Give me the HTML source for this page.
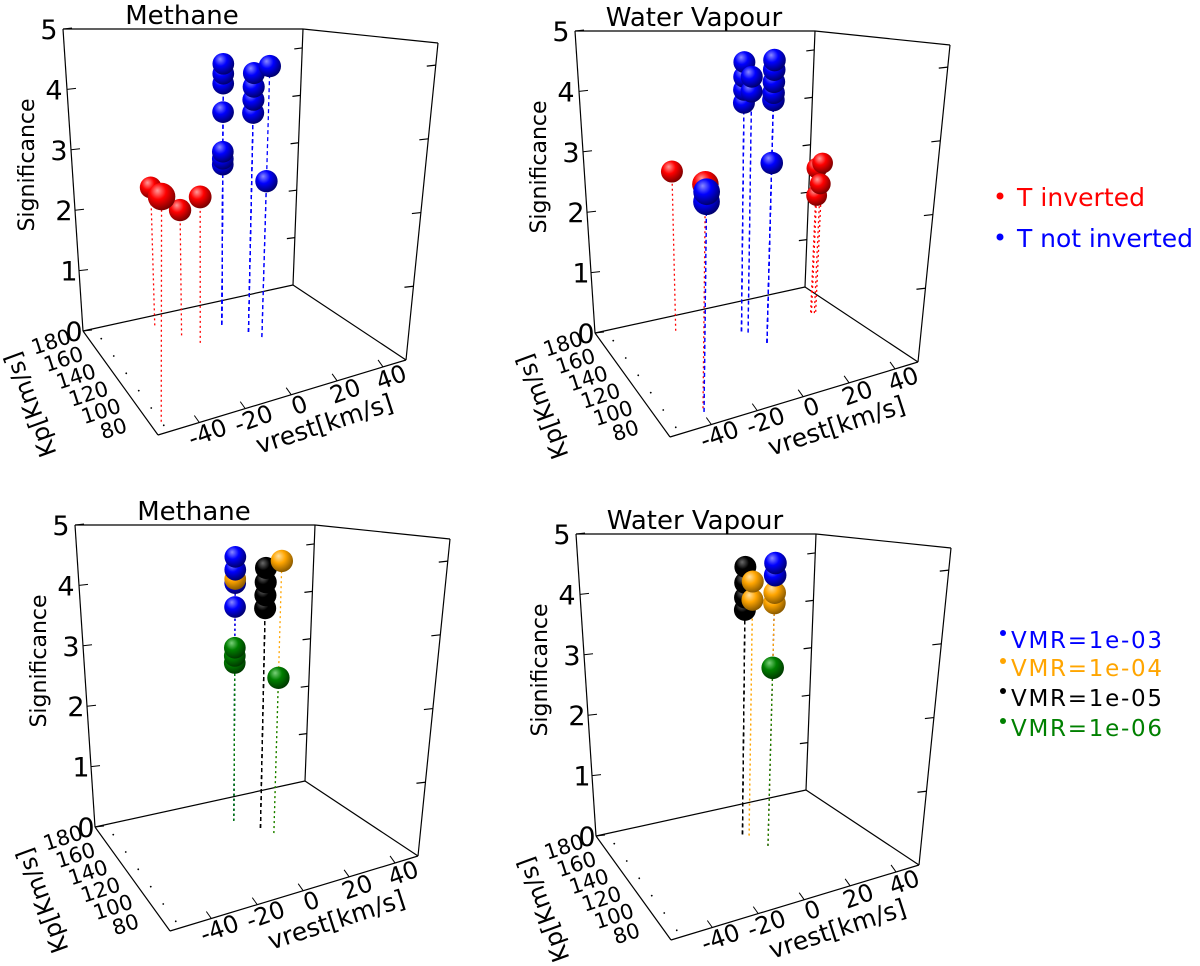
<!DOCTYPE html>
<html><head><meta charset="utf-8"><style>
html,body{margin:0;padding:0;background:#fff;}
svg{display:block;font-family:"DejaVu Sans","Liberation Sans",sans-serif;}
</style></head><body>
<svg id="fig" width="1200" height="966" viewBox="0 0 1200 966" xmlns="http://www.w3.org/2000/svg">
<defs id="defs"></defs>
<g id="panels"></g>
<g>
  <circle cx="1000" cy="196" r="3.5" fill="#ff0000"/>
  <text x="1017" y="206" font-size="25" fill="#ff0000" textLength="128">T inverted</text>
  <circle cx="1000" cy="237" r="3.5" fill="#0000ff"/>
  <text x="1017" y="247" font-size="25" fill="#0000ff" textLength="176">T not inverted</text>
</g>
<g>
  <circle cx="1003" cy="633" r="3" fill="#0000ff"/>
  <text x="1011" y="648" font-size="23" fill="#0000ff" textLength="151">VMR=1e-03</text>
  <circle cx="1003" cy="661" r="3" fill="#ffa500"/>
  <text x="1011" y="676" font-size="23" fill="#ffa500" textLength="151">VMR=1e-04</text>
  <circle cx="1003" cy="691" r="3" fill="#000000"/>
  <text x="1011" y="706" font-size="23" fill="#000000" textLength="151">VMR=1e-05</text>
  <circle cx="1003" cy="721" r="3" fill="#008000"/>
  <text x="1011" y="736" font-size="23" fill="#008000" textLength="151">VMR=1e-06</text>
</g>
</svg>
<script>
// ---- data ----
const panelTitles = ["Methane", "Water Vapour", "Methane", "Water Vapour"];
const zTicks = [0, 1, 2, 3, 4, 5];
const vrestTicks = [-40, -20, 0, 20, 40];
const kpTicks = [180, 160, 140, 120, 100, 80];

// panel 1: Methane, temperature
const p1Vrest = [-23, -58, -17, -13, 2, 2, 2, 2, 2, 2, 2, 9, 9, 9, 9, 12, 12];
const p1Kp    = [181, 78, 163, 150, 163, 163, 163, 163, 163, 163, 163, 148, 148, 148, 148, 139, 139];
const p1Sig   = [2.36, 3.05, 2.09, 2.39, 4.48, 4.31, 4.14, 3.65, 2.97, 2.85, 2.75, 4.37, 4.14, 3.92, 3.70, 4.52, 2.60];
const p1Group = ["inv","inv","inv","inv","not","not","not","not","not","not","not","not","not","not","not","not","not"];

// panel 2: Water Vapour, temperature
const p2Vrest = [-21, -41, -42, -42, 3, 3, 3, 3, 5, 5, 8, 8, 8, 8, 8, 8, 38, 36, 37, 36];
const p2Kp    = [175, 86, 82, 82, 156, 156, 156, 156, 153, 153, 137, 137, 137, 137, 137, 137, 156, 157, 155, 156];
const p2Sig   = [2.70, 3.15, 3.07, 2.93, 4.57, 4.32, 4.10, 3.88, 4.33, 4.08, 4.67, 4.51, 4.31, 4.13, 4.01, 2.97, 2.67, 2.58, 2.31, 2.10];
const p2Group = ["inv","inv","not","not","not","not","not","not","not","not","not","not","not","not","not","not","inv","inv","inv","inv"];

// panel 3: Methane, VMR
const p3Vrest = [2, 2, 2, 2, 2, 2, 2, 2, 9, 9, 9, 9, 12, 12];
const p3Kp    = [163, 163, 163, 163, 163, 163, 163, 163, 148, 148, 148, 148, 139, 139];
const p3Sig   = [4.53, 4.31, 4.15, 4.08, 3.67, 2.97, 2.83, 2.71, 4.39, 4.15, 3.93, 3.71, 4.54, 2.59];
const p3Group = ["1e-03","1e-03","1e-04","1e-03","1e-03","1e-06","1e-06","1e-06","1e-05","1e-05","1e-05","1e-05","1e-04","1e-06"];

// panel 4: Water Vapour, VMR
const p4Vrest = [3, 3, 3, 3, 5, 5, 8, 8, 8, 8, 8];
const p4Kp    = [156, 156, 156, 156, 153, 153, 137, 137, 137, 137, 137];
const p4Sig   = [4.54, 4.27, 4.02, 3.81, 4.30, 3.99, 4.67, 4.47, 4.18, 4.01, 2.94];
const p4Group = ["1e-05","1e-05","1e-05","1e-05","1e-04","1e-04","1e-03","1e-03","1e-04","1e-04","1e-06"];

// ---- layout ----
const NS = "http://www.w3.org/2000/svg";
const colors = {"inv":"#ff0000","not":"#0000ff","1e-03":"#0000ff","1e-04":"#ffa500","1e-05":"#000000","1e-06":"#008000"};
const darks  = {"inv":"#7a0000","not":"#00006e","1e-03":"#00006e","1e-04":"#8a5a00","1e-05":"#000000","1e-06":"#003a00"};
const lights = {"inv":"#ff9a9a","not":"#8a8aff","1e-03":"#8a8aff","1e-04":"#ffe0a0","1e-05":"#6a6a6a","1e-06":"#7ad07a"};
const dashes = {"inv":"2,3","not":"4,3","1e-03":"2,3","1e-04":"2,3","1e-05":"4,3","1e-06":"2,3"};
const offsets = [[0,0],[512,2],[12,496],[513,505]];
const panelData = [[p1Vrest,p1Kp,p1Sig,p1Group],[p2Vrest,p2Kp,p2Sig,p2Group],[p3Vrest,p3Kp,p3Sig,p3Group],[p4Vrest,p4Kp,p4Sig,p4Group]];

function uOf(vr){ return (vr + 58) / 108; }
function vOf(kp){ return (kp - 70) / 120; }
function proj(vr, kp, s){
  const u = uOf(vr), v = vOf(kp);
  const fx = 235 + (u - 0.5) * 229 + (v - 0.5) * (-94);
  const fy = 352.75 + (u - 0.5) * (-60.5) + (v - 0.5) * (-89.5);
  const H = 374 - 57*u - 72*v + 11*u*v;
  const S = 2 + 30*u - 22*v;
  return {x: fx + s*S/5, y: fy - s*H/5, fx: fx, fy: fy, H: H, v: v};
}
function mk(tag, attrs, parent){
  const e = document.createElementNS(NS, tag);
  for (const k in attrs) e.setAttribute(k, attrs[k]);
  if (parent) parent.appendChild(e);
  return e;
}

const defs = document.getElementById("defs");
for (const g in colors){
  const rg = mk("radialGradient", {id:"grad-"+g, cx:"0.4", cy:"0.35", r:"0.65", fx:"0.35", fy:"0.28"}, defs);
  mk("stop", {offset:"0", "stop-color":lights[g]}, rg);
  mk("stop", {offset:"0.45", "stop-color":colors[g]}, rg);
  mk("stop", {offset:"1", "stop-color":darks[g]}, rg);
}

const root = document.getElementById("panels");
const BLb=[83,331], BRb=[293,285], FRb=[406,360], FLb=[158,435];
const BLt=[63,29], BRt=[303,29], FRt=[438,43];

panelData.forEach((pd, pi) => {
  const g = mk("g", {transform:"translate("+offsets[pi][0]+","+offsets[pi][1]+")"}, root);
  
  

  const title = mk("text", {x:182, y:24, "font-size":26, "text-anchor":"middle"}, g);
  title.textContent = panelTitles[pi];
  
  

  const frame = mk("g", {stroke:"#000", "stroke-width":1.2, fill:"none"}, g);
  
  
  const segs = [[BLt,BLb],[BLb,BRb],[BRb,FRb],[FRb,FLb],[FLb,BLb],[BRb,BRt],[FRb,FRt],[BLt,BRt],[BRt,FRt]];
  segs.forEach(s => mk("line", {x1:s[0][0], y1:s[0][1], x2:s[1][0], y2:s[1][1]}, frame));
  for (let k=1;k<=5;k++){
    const t=k/5.4;
    const bx=293+10*t, by=285-256*t;
    mk("line",{x1:bx,y1:by,x2:bx-8,y2:by+1},frame);
  }
  for (let k=1;k<=4;k++){
    const t=k/4.3;
    const bx=406+32*t, by=360-317*t;
    mk("line",{x1:bx,y1:by,x2:bx-9,y2:by+1},frame);
  }

  const zg = mk("g", {}, g);
  
  
  zTicks.forEach(k => {
    const y = 331 - k*60.4, x = 83 - 4*k;
    mk("line", {x1:x, y1:y, x2:x+9, y2:y-1, stroke:"#000", "stroke-width":1}, zg);
    const t = mk("text", {x: 92 - 5*k - 18, y: y + 10, "font-size":27, "text-anchor":"middle"}, zg);
    t.textContent = String(k);
    
    
  });
  const zt = mk("text", {x:0, y:0, "font-size":22, "text-anchor":"middle", transform:"translate(34,165) rotate(-90)"}, g);
  zt.textContent = "Significance";
  
  

  const xg = mk("g", {}, g);
  
  
  vrestTicks.forEach(val => {
    const u = uOf(val);
    const x = 158 + u*248, y = 435 - u*75;
    mk("line", {x1:x, y1:y, x2:x-5, y2:y-7, stroke:"#000", "stroke-width":1}, xg);
    const t = mk("text", {x:0, y:0, "font-size":24, "text-anchor":"middle", transform:"translate("+(x+11)+","+(y+18)+") rotate(-20)"}, xg);
    t.textContent = String(val);
    
    
  });
  const xt = mk("text", {x:0, y:0, "font-size":25, "text-anchor":"middle", transform:"translate(327,432) rotate(-18)"}, g);
  xt.textContent = "vrest[km/s]";
  
  

  const yg = mk("g", {}, g);
  
  
  kpTicks.forEach(val => {
    const v = vOf(val);
    const x = 158 - 75*v, y = 435 - 104*v;
    mk("circle", {cx:x+12, cy:y-1, r:0.9, fill:"#000"}, yg);
    const t = mk("text", {x:0, y:0, "font-size":21, "text-anchor":"middle", transform:"translate("+(x-36)+","+(y+9)+") rotate(-18)"}, yg);
    t.textContent = String(val);
    
    
  });
  const yt = mk("text", {x:0, y:0, "font-size":24, "text-anchor":"middle", transform:"translate(38,402) rotate(-110)"}, g);
  yt.textContent = "Kp[Km/s]";
  
  

  const [vr, kp, sg, gr] = pd;
  const pts = vr.map((_, i) => Object.assign(proj(vr[i], kp[i], sg[i]), {grp: gr[i]}));
  const stems = mk("g", {}, g);
  
  
  pts.forEach(p => {
    const l = mk("line", {x1:p.fx, y1:p.fy, x2:p.x, y2:p.y, stroke:colors[p.grp], "stroke-width":1.3, "stroke-dasharray":dashes[p.grp]}, stems);
    
    
  });
  const order = pts.map((p, i) => i).sort((a, b) => (pts[b].v - pts[a].v) || (pts[b].y - pts[a].y));
  const sph = mk("g", {}, g);
  
  
  order.forEach(i => {
    const p = pts[i];
    const c = mk("circle", {cx:p.x, cy:p.y, r: 11 * p.H / 295, fill:"url(#grad-"+p.grp+")"}, sph);
    
    
  });
});
</script>
</body></html>
